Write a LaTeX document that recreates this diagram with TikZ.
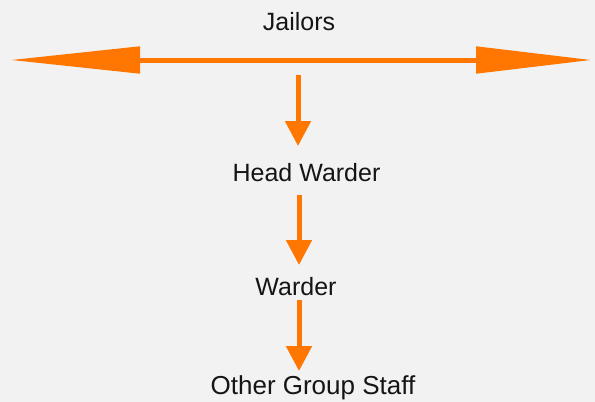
\documentclass[tikz,border=0pt]{standalone}
\usepackage{fontspec}
\setmainfont{Liberation Sans}
\usetikzlibrary{arrows.meta}
\definecolor{bg}{HTML}{F2F2F2}
\definecolor{org}{RGB}{255,118,0}
\definecolor{ink}{HTML}{151515}
\begin{document}
\begin{tikzpicture}[x=1pt,y=-1pt,
  lbl/.style={inner sep=0pt,text=ink,font=\fontsize{25}{28}\selectfont},
  harrow/.style={draw=org,line width=5pt,{Triangle[length=130pt,width=26pt]}-{Triangle[length=116pt,width=26pt]}},
  varrow/.style={draw=org,line width=5pt,-{Triangle[length=25pt,width=25pt]}}]
\fill[bg] (0,0) rectangle (595,402);
\useasboundingbox (0,0) rectangle (595,402);
\node[lbl] (jail) at (299,22) {Jailors};
\node[lbl] (hw) at (306.5,173) {Head Warder};
\node[lbl] (w) at (296,287) {Warder};
\node[lbl, font=\fontsize{26}{28}\selectfont] (ogs) at (313,388) {Other Group Staff};
\coordinate (L) at (10,60);
\coordinate (R) at (592,60);
\coordinate (a1s) at (298,75);
\coordinate (a1e) at (298,146);
\coordinate (a2s) at (299,195);
\coordinate (a2e) at (299,265);
\coordinate (a3s) at (299,300);
\coordinate (a3e) at (299,371);
\draw[harrow] (L) -- (R);
\draw[varrow] (a1s) -- (a1e);
\draw[varrow] (a2s) -- (a2e);
\draw[varrow] (a3s) -- (a3e);
\end{tikzpicture}
\end{document}
